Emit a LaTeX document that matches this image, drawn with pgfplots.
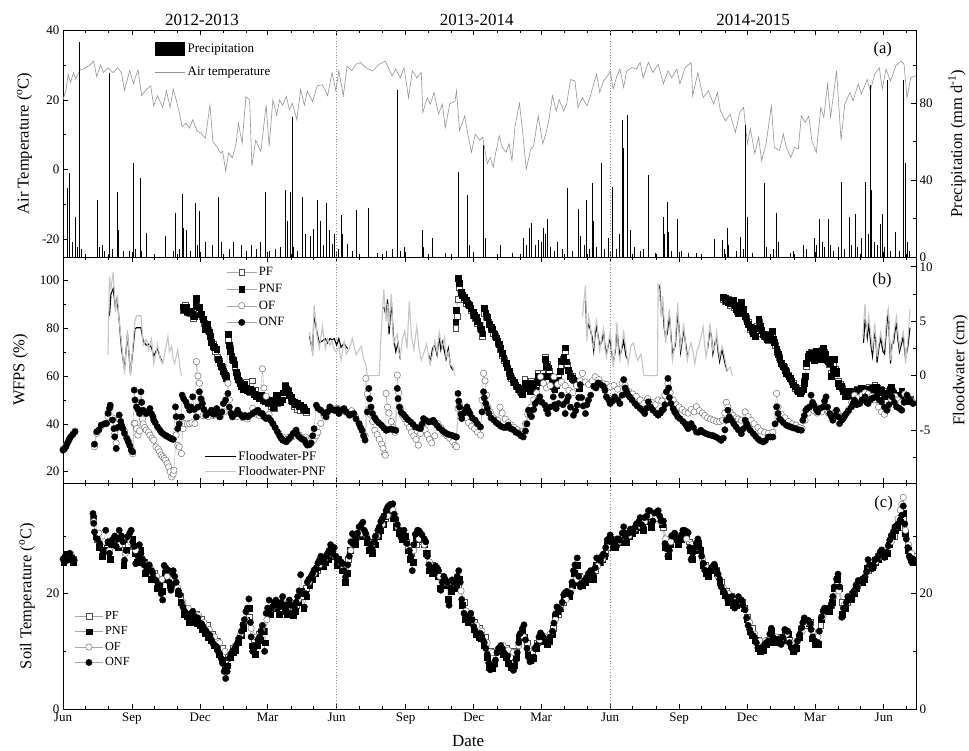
\documentclass[border=0pt]{standalone}
\usepackage{fontspec}
\setmainfont{Liberation Serif}
\usepackage{pgfplots}
\pgfplotsset{compat=1.18}
\pgfplotsset{
 base/.style={scale only axis, width=853pt, xmin=0, xmax=1138,
  xtick={0,92,183,273,365,457,548,638,730,822,913,1003,1095},
  minor xtick={30,61,122,153,214,245,304,334,395,426,487,518,579,610,669,699,760,791,852,883,944,975,1034,1064,1125},
  tick align=inside, major tick length=5pt, minor tick length=3pt,
  every tick/.append style={line width=0.6pt, black},
  axis line style={line width=0.8pt},
  ticklabel style={font=\fontsize{13}{14}\selectfont},
  /pgf/number format/assume math mode=true,
  unbounded coords=jump, anchor=south west},
 leftax/.style={base, xtick pos=both, ytick pos=left,
  every axis y label/.style={at={(axis description cs:#1,0.5)}, rotate=90, anchor=center, font=\fontsize{16.5}{18}\selectfont}},
 rightax/.style={base, axis x line=none, axis y line*=right, tick align=inside, ytick pos=right,
  every axis y label/.style={at={(axis description cs:#1,0.5)}, rotate=90, anchor=center, font=\fontsize{16.5}{18}\selectfont}},
 ser/.style={color=gray!70, line width=0.35pt},
 pf/.style={ser, mark=square*, mark size=2.9pt, mark options={solid, fill=white, draw=black!70, line width=0.5pt}},
 pnf/.style={ser, mark=square*, mark size=2.9pt, mark options={solid, fill=black, draw=black}},
 of/.style={ser, mark=*, mark size=3.2pt, mark options={solid, fill=white, draw=black!55, line width=0.5pt}},
 onf/.style={ser, mark=*, mark size=3.2pt, mark options={solid, fill=black, draw=black}},
 mleg/.style={legend image code/.code={\draw[mark repeat=2,mark phase=2,##1] plot coordinates {(0pt,0pt) (#1,0pt) (2*#1,0pt)};}},
 dotl/.style={gray!90, dotted, line width=0.8pt, forget plot},
}
\begin{document}
\begin{tikzpicture}
\useasboundingbox (-63pt,-41pt) rectangle (906pt,709pt);
%================ PANEL A =================
\begin{axis}[leftax=-0.045, at={(0pt,452pt)}, height=227pt,
  xticklabels={}, ymin=-25, ymax=40, ytick={-20,0,20,40}, minor ytick={-10,10,30},
  ylabel={Air Temperature (\textsuperscript{o}C)},
  after end axis/.code={
   \node[font=\fontsize{17}{18}\selectfont] at (axis description cs:0.163,1.046) {2012-2013};
   \node[font=\fontsize{17}{18}\selectfont] at (axis description cs:0.485,1.046) {2013-2014};
   \node[font=\fontsize{17}{18}\selectfont] at (axis description cs:0.809,1.046) {2014-2015};
   \node[font=\fontsize{16.5}{18}\selectfont] at (axis description cs:0.961,0.912) {(a)};
  }]
\addplot[dotl] coordinates {(365,-25) (365,40)};
\addplot[dotl] coordinates {(730,-25) (730,40)};
\addplot[gray!85, line width=0.6pt, forget plot] coordinates {
(0,20) (4,23) (7,27.3) (10,25) (14,27.8) (17,26) (23,28.6) (29,29) (36,30) (41,31.1) (45,26.6) (50,30) (54,27.8) (60,29.2) (67,27.8) (73,29.2) (78,27.8) (82,22.7) (89,28.4) (94,24.6) (100,28.6) (105,21.2) (110,22.7) (117,24) (121,18.3) (126,21.2) (133,17.8) (138,22.6) (143,17.8) (147,23.1) (151,20) (156,15.6) (159,12.3) (164,13.3) (169,11.9) (173,14.3) (179,11) (184,10.5) (190,9) (196,18.5) (200,8) (205,6.7) (210,4.8) (213,5.3) (217,-0.4) (221,4.8) (226,3.4) (231,7.6) (234,13.3) (239,7.6) (244,20.9) (249,20) (252,1) (257,8.4) (264,5.2) (271,18.5) (275,6.7) (280,20) (285,15.6) (289,20) (293,18.5) (298,21) (302,17.2) (306,19) (312,14.3) (317,23) (322,18.5) (326,22.5) (333,19.5) (339,24) (346,24.3) (353,21.2) (359,27.8) (364,22.6) (368,28.3) (374,21.2) (379,29.7) (385,28.3) (391,30.2) (397,30.7) (404,29.2) (413,28.3) (422,30.2) (430,31.1) (439,26.9) (444,28.8) (450,26.3) (455,29.2) (461,20.6) (466,28.3) (472,26.3) (478,27.8) (480,16.4) (486,20.6) (490,18.8) (495,22.1) (501,15.9) (506,18.8) (510,12.1) (516,18.8) (523,19.7) (525,22.6) (529,11.2) (536,15.4) (540,10.2) (545,5) (550,10.2) (556,8.4) (560,9.3) (566,1.7) (570,3.5) (574,0.7) (577,4.5) (582,9.7) (586,6.4) (591,5) (595,7.4) (599,2.6) (603,12.4) (609,19) (613,11.2) (618,0.2) (624,5.9) (628,6.9) (634,15.4) (640,7.4) (644,10.2) (648,14) (653,21.2) (658,16.8) (662,20.1) (668,16.8) (672,18.8) (677,25.8) (683,25.4) (687,17.8) (693,20.6) (699,18.3) (703,20.6) (708,24.6) (712,27.4) (716,22.1) (721,25.4) (725,26.3) (730,28.2) (734,23.1) (739,26.9) (743,28.8) (748,23.6) (752,28.3) (759,29.2) (765,28.8) (770,30.7) (774,26.3) (781,30.7) (787,27.8) (794,30.2) (801,24.6) (807,28.3) (812,26.3) (819,28.8) (823,24.6) (830,29.2) (838,30.7) (840,21.2) (847,27.8) (854,20.6) (861,22.6) (868,18.8) (873,22.1) (877,16.9) (884,14) (890,15.9) (897,10.7) (903,16.4) (908,17.8) (913,7.4) (917,11.7) (923,4.6) (928,9.3) (932,2.6) (938,7.4) (945,18.3) (949,6.4) (956,5.5) (961,10.2) (965,6.4) (971,3.5) (976,6.4) (981,6) (985,15.4) (990,13.5) (995,15.4) (999,8.4) (1005,5) (1011,17.8) (1015,15) (1020,24.6) (1024,15) (1032,28.3) (1038,8.4) (1043,18.8) (1050,22.1) (1054,19.7) (1061,24.6) (1065,21.7) (1073,25.8) (1077,22.6) (1083,27.4) (1089,29.2) (1093,23.1) (1098,28.8) (1104,25.4) (1111,29.7) (1118,31.1) (1122,30.2) (1126,20.6) (1131,26.3) (1138,27)};
\end{axis}
\begin{axis}[rightax=1.048, at={(0pt,452pt)}, height=227pt,
  ymin=0, ymax=118.2, ytick={0,40,80}, minor ytick={20,60,100},
  ylabel={Precipitation (mm d\textsuperscript{-1})},
  legend style={draw=none, fill=none, at={(axis description cs:0.104,0.957)}, anchor=north west, font=\fontsize{13}{14}\selectfont, row sep=8.5pt},
  legend cell align=left]
\addplot[ycomb, black, line width=0.9pt, no marks,
  legend image code/.code={\fill[black] (0pt,-6pt) rectangle (29pt,7pt);}] coordinates {
(6,35.7) (8,19.6) (9,43.5) (12,8) (16,21) (19,5) (22,112) (24,4) (46,29.6) (48,5) (52,6) (55,3) (62,96) (66,4) (72,34) (74,14) (80,3) (88,3) (94,48.7) (97,4) (103,40.9) (105,3) (111,12.3) (137,11) (148,3) (150,22.7) (156,4) (159,33) (161,15) (165,14) (170,3) (177,28.2) (180,6) (182,23.9) (190,8) (200,6) (208,31.3) (212,8) (222,4) (228,8) (238,6) (245,3) (252,6) (258,4) (264,8) (270,34) (275,3) (284,4) (290,5) (297,34.8) (299,19) (303,34) (306,72.9) (308,5) (313,3) (320,31.3) (323,12) (330,11) (334,14.5) (340,29.6) (343,19) (348,6) (351,28.2) (355,14) (359,7) (362,12) (368,4) (371,21.8) (373,12) (380,7) (386,3) (391,24.4) (408,25.3) (420,2) (432,3) (440,4) (446,86.8) (450,3) (455,5) (479,14) (481,5) (493,10) (510,2) (527,44.3) (539,32.2) (542,6) (561,58.2) (563,10) (583,6) (600,2) (614,10) (618,6) (622,15) (625,17.5) (630,6) (634,9) (638,8) (641,15) (644,12) (646,20) (650,5) (655,3) (660,8) (666,4) (673,35.7) (680,3) (688,24.8) (690,11) (695,6) (699,29.6) (703,4) (706,38.3) (708,19) (712,5) (718,48.7) (722,4) (728,10) (733,36.5) (738,4) (742,12) (746,71.2) (748,57) (753,73.8) (757,14) (763,5) (770,3) (775,4) (781,42.6) (790,2) (801,20.8) (803,12) (806,28.7) (808,13) (812,3) (820,20) (825,3) (835,2) (845,2) (869,9.5) (880,9) (883,4) (886,15) (888,6) (898,3) (904,10.5) (908,4) (911,68.6) (913,21) (920,2) (936,38.3) (938,5) (948,4) (952,23) (955,8) (970,2) (975,3) (988,6) (992,4) (1002,10) (1005,6) (1009,20) (1013,8) (1016,5) (1021,20) (1024,6) (1028,3) (1035,5) (1039,39) (1043,4) (1049,20.8) (1052,6) (1057,22.5) (1060,5) (1065,10) (1070,39) (1074,12) (1077,89.4) (1079,35) (1082,8) (1086,6) (1090,17) (1093,22.5) (1096,5) (1100,92) (1104,3) (1110,13) (1116,3) (1121,92) (1124,48.7) (1127,8) (1129,3)};
\addlegendentry{Precipitation}
\addlegendimage{gray!85, line width=0.6pt, legend image code/.code={\draw[gray!85, line width=0.6pt] (0pt,0pt) -- (30pt,0pt);}}
\addlegendentry{Air temperature}
\end{axis}
%================ PANEL B =================
\begin{axis}[leftax=-0.05, at={(0pt,226pt)}, height=226pt,
  xticklabels={}, ymin=15.28, ymax=109.74, ytick={20,40,60,80,100}, minor ytick={30,50,70,90},
  ylabel={WFPS (\%)}, mleg=15pt,
  legend style={draw=none, fill=none, at={(axis description cs:0.188,0.972)}, anchor=north west, font=\fontsize{12.7}{13}\selectfont, row sep=2.8pt},
  legend cell align=left]
\addplot[dotl] coordinates {(365,15.28) (365,109.74)};
\addplot[dotl] coordinates {(730,15.28) (730,109.74)};
% PF
\addplot[pf] coordinates {
(160,87.5) (163,89.5) (166,86.5) (170,86) (174,84) (178,90) (181,88) (185,85) (188,82) (191,80) (194,79) (197,75.5) (200,73.5) (203,70.5) (206,68) (209,66) (212,63.5) (215,61) (218,60) (220,75) (223,71.5) (226,67) (229,63.5) (232,60.5) (235,58) (238,56) (241,55) (244,57.5) (247,54.5) (250,53) (253,58) (256,54) (259,52) (262,51) (266,50.5) (270,49.5) (274,48.5) (278,47.5) (282,46.5) (286,48.5) (290,49.5) (294,52.5) (297,56) (300,54) (304,50) (308,47.5) (312,46) (316,45.5) (320,46) (324,45) (325,nan)
(524,80) (526,85) (527,92) (529,97) (532,94.5) (535,92) (538,90.5) (541,90) (544,87.5) (547,85.5) (550,84) (553,82) (556,80) (559,76.5) (562,86) (565,85) (568,82.5) (571,79.5) (574,78) (577,76.5) (580,73.5) (583,71) (586,68.5) (589,66.5) (592,64.5) (595,61) (598,59) (601,57.5) (604,55.5) (607,54.5) (610,53.5) (613,55) (616,58.5) (619,57) (622,56) (625,58) (628,57) (631,55.5) (634,61) (637,59) (640,61) (643,68) (646,65) (649,62) (652,58) (655,55) (658,57) (661,59.5) (664,64) (667,67) (670,70.5) (673,64.5) (676,61) (679,60) (682,58) (685,57) (688,56) (689,nan)
(881,92) (884,91) (887,92) (890,89.5) (893,91) (896,88.5) (899,87) (902,87.5) (905,90) (908,87) (911,84) (914,82.5) (917,79.5) (920,78.5) (923,77.5) (926,81) (929,82.5) (932,78) (935,76.5) (938,76) (941,75) (944,77.5) (947,76.5) (950,73) (953,70) (956,68) (959,65) (962,63.5) (965,62) (968,60.5) (971,58.5) (974,57) (977,55) (980,54) (983,53.5) (986,55) (989,58) (992,64) (995,68.5) (998,70) (1001,67.5) (1004,69) (1007,69) (1010,68) (1013,71) (1016,70) (1019,66.5) (1022,65) (1025,61) (1028,65) (1031,63) (1034,58) (1037,56.5) (1040,55) (1043,52.5) (1046,53) (1049,53) (1052,52) (1055,53) (1059,54.5) (1063,54) (1067,55) (1071,54) (1075,55.5) (1079,55.5) (1083,56) (1087,55) (1091,54.5) (1095,53.5) (1099,53) (1103,54.5) (1107,53.5) (1111,52) (1115,51) (1119,53.5) (1123,51) (1127,50) (1130,50.5)};
\addlegendentry{PF}
% PNF
\addplot[pnf] coordinates {
(160,89) (162,88) (164,88.6) (166,87) (168,86.5) (171,87.2) (173,86) (175,85) (177,90) (178,92.5) (180,89) (182,88.6) (184,86) (187,83.6) (189,81.5) (190,79.5) (192,80) (193,81.6) (195,78.5) (196,76.7) (198,74) (200,72.5) (202,72) (205,71.1) (207,66.9) (209,65.5) (211,64.1) (213,63) (214,62) (216,60.5) (218,59.2) (220,77.4) (222,73) (223,70.5) (225,68.3) (227,66.5) (229,64.8) (231,61.5) (232,59.9) (234,58.5) (236,57.1) (238,55.7) (240,54.3) (242,56.5) (244,55) (246,54) (248,53.6) (250,54.5) (253,53.5) (255,52.5) (258,51.5) (260,52) (262,50.5) (264,52) (267,50) (269,49.5) (271,50.5) (273,49) (276,50) (278,48.5) (280,47.1) (282,49) (284,52) (286,51.5) (288,50) (290,49) (292,50.1) (294,53) (296,55.7) (298,54.5) (300,53.5) (302,52) (304,51) (306,49.5) (308,49) (310,48) (313,48.5) (315,47.5) (317,47.7) (320,47.1) (322,46) (324,45.5) (325,nan)
(524,82.7) (525,87.5) (527,100.8) (528,99.5) (529,98.7) (531,95.2) (533,93.8) (535,93) (538,91.7) (540,90.5) (542,89.6) (544,88.5) (547,86.8) (549,85.5) (551,84.7) (553,83) (556,81.2) (558,79.5) (560,77.7) (562,88.2) (564,86.5) (566,84.5) (569,81.5) (571,80.5) (573,79.5) (576,77.5) (578,76) (580,74.5) (582,73.2) (584,71.5) (586,69.7) (588,67.5) (591,65.5) (593,63.5) (595,62) (597,60) (600,58.5) (602,57.5) (604,56.4) (606,55.5) (608,54.3) (611,53) (613,52.2) (615,55) (617,57.1) (619,56) (621,55) (623,53.5) (626,57) (628,55.5) (630,54) (632,57.5) (634,59.9) (636,58) (639,57.5) (641,60) (643,66.9) (645,64) (648,63.5) (650,60) (652,57.1) (654,55.5) (656,54.3) (658,56) (661,58.5) (663,62) (665,66.2) (668,68) (670,71.8) (672,66) (674,62.5) (677,59.9) (679,59) (681,58.5) (684,57) (686,56.4) (689,55) (690,nan)
(881,93.1) (883,92.5) (885,91.7) (887,91) (890,90.3) (892,91) (894,91.7) (896,89.5) (898,88) (901,86.1) (903,88.5) (905,91) (907,88) (910,85) (912,83) (914,81.6) (917,80.5) (919,79.5) (921,78) (923,76.7) (925,80) (928,83.6) (930,81) (932,79) (934,77.4) (936,76.5) (939,75.3) (941,76) (943,77) (946,78.8) (948,75.5) (949,74) (952,71.1) (954,69) (956,66.9) (958,65.5) (961,64.1) (963,62.5) (965,61.3) (968,60) (970,59.2) (972,58) (974,56.4) (977,55.5) (979,54.3) (981,53.5) (983,52.9) (985,53.5) (987,54.3) (989,57) (990,59.9) (992,65.5) (994,68.3) (996,69) (999,69.7) (1000,68) (1002,66.5) (1003,68) (1005,70.4) (1007,68.5) (1010,67) (1012,69.5) (1014,71.8) (1017,69) (1019,67) (1021,66) (1023,65.5) (1025,59.9) (1027,63) (1029,67) (1031,62) (1032,61) (1034,57.1) (1036,55.5) (1038,55.7) (1041,53.5) (1043,51.5) (1045,52.5) (1047,53.6) (1050,52.5) (1052,51.5) (1054,52.5) (1056,53.6) (1060,54) (1063,53.5) (1065,55) (1067,54.5) (1069,53) (1072,53.5) (1074,54) (1076,54.5) (1078,54.5) (1081,55) (1083,55.2) (1085,55.5) (1088,54) (1090,54) (1092,54) (1094,53) (1096,51.5) (1099,52.5) (1101,52.5) (1103,54) (1105,55.5) (1108,53) (1110,51.5) (1112,51.5) (1114,50.1) (1117,52) (1119,53.6) (1121,52.5) (1123,50.1) (1125,51) (1127,49.5) (1130,50)};
\addlegendentry{PNF}
% OF
\addplot[of] coordinates {
(0,29.5) (4,31) (8,33.5) (13,35.8) (16,37) (20,nan) (42,30.4) (45,36) (51,39) (58,40) (60,43) (63,47) (66,42.5) (69,36) (71,32) (75,42) (78,39) (82,37) (87,33) (91,30) (93,27.5) (95,40.2) (96,40.2) (98,38) (100,35.3) (102,37) (104,49.2) (106,42) (107,40) (109,38.5) (111,37.4) (114,36.5) (116,35.3) (119,34) (121,33.2) (124,30.4) (127,29.5) (129,28.3) (131,27) (133,26.2) (135,25.5) (137,24.8) (139,23.5) (141,22) (143,20) (145,17.8) (147,19) (148,20.6) (151,35.3) (153,31) (155,30.4) (158,27.6) (160,38) (162,40.1) (166,40) (169,40.1) (172,40.5) (176,40.1) (178,66) (180,60) (182,57) (185,50) (187,43.5) (190,43.5) (194,43) (200,43.5) (205,44) (210,43) (215,45) (220,57) (222,50) (226,43.5) (232,43) (240,42.5) (246,42) (253,46.5) (258,44) (262,43.5) (266,63) (268,55) (271,51.5) (275,44) (280,40) (284,38) (288,36) (293,34.5) (298,33.5) (302,34.5) (306,34.5) (310,37) (315,35.5) (320,34) (324,34.5) (328,33) (332,34) (335,33.5) (338,35) (340,36.5) (344,40.2) (348,43.5) (352,45) (356,46.5) (359,46.5) (363,45.5) (366,46.5)
(368,45) (372,46) (376,45) (380,44.5) (385,45.5) (390,43) (395,40) (400,36.5) (403,35) (404,59) (406,52.5) (408,46) (410,44) (413,41) (416,37.3) (419,35.5) (422,33.5) (425,31.5) (427,29.7) (429,27.5) (430,26.9) (431,52.7) (433,47) (435,44.5) (438,41) (440,38.5) (443,36.5) (446,60.4) (448,53) (450,46.5) (453,43.5) (456,42) (459,40.5) (462,38.5) (465,36.5) (468,35) (471,33.5) (474,31.1) (477,36) (480,39) (483,37.5) (486,35.5) (489,33.5) (492,32) (496,35) (500,40.1) (504,38.5) (508,36) (512,35) (516,34) (520,32.5) (523,31) (525,30.4) (527,46.5) (529,48) (531,46) (534,44) (538,42.5) (541,40.5) (545,39) (549,38) (553,36.5) (557,35.3) (559,50) (561,61.1) (563,58) (565,52) (567,47) (570,45) (573,43) (576,42) (580,41.5) (583,47) (586,44.5) (590,42) (594,40.5) (598,39.5) (602,38.5) (606,37.5) (610,36.5) (614,37) (617,40) (620,44) (624,47) (628,50) (632,53) (637,59.7) (641,57) (645,55) (650,56) (655,59.7) (660,56.5) (665,57.5) (670,56) (675,54) (680,53) (685,56) (690,58) (693,61.1) (697,57.5) (701,56.5) (706,58) (710,59.7) (715,58.5) (720,57) (725,56.5) (730,55.5) (735,56) (740,54.5) (746,57) (750,56) (755,53.5) (760,52.5) (765,51.5) (770,50) (775,48.5) (780,50.6) (785,49) (790,48) (794,50) (799,49.5)
(803,52) (807,57) (810,53) (814,50) (818,48) (822,47) (826,46) (830,45) (834,44.5) (838,46) (842,45) (845,47.2) (849,45.5) (853,44.5) (856,43.5) (860,42.5) (864,42) (868,41.5) (872,41) (876,41) (880,41.5) (883,44.5) (885,49) (887,47) (890,45) (894,43.5) (898,42.5) (901,42) (905,41.5) (910,45) (914,43) (918,41.5) (922,40) (927,38.5) (931,37) (936,36.5) (941,36) (947,36.5) (952,52.7) (954,47) (958,44) (963,42.5) (968,41) (973,40) (978,39.5) (982,38.5) (986,38) (990,41.5) (994,44.5) (998,47) (1002,45.5) (1006,44.5) (1012,45) (1016,47.5) (1021,44.5) (1026,43.5) (1030,45) (1034,44.5) (1038,43) (1043,43.5) (1048,46) (1052,49) (1056,52) (1061,51) (1066,52) (1070,53) (1074,52.5) (1079,51.5) (1083,50) (1088,47) (1092,45) (1096,44) (1100,46) (1105,50) (1110,51.5) (1114,50) (1118,49) (1123,52.5) (1127,51) (1131,50) (1134,49)};
\addlegendentry{OF}
% ONF
\addplot[onf] coordinates {
(0,29) (2,29.5) (4,30.5) (6,32) (8,33.2) (10,34.5) (13,35.5) (16,36.7) (20,nan)
(42,31.5) (45,36.7) (48,37.5) (51,39.5) (55,40) (58,40.2) (60,44.4) (62,46.5) (63,47.8) (66,41.6) (68,38) (69,34.6) (71,29.7) (73,38.5) (75,43.7) (77,41) (78,39.5) (80,38) (82,36) (85,34) (87,32.5) (89,31) (91,29) (93,28.3) (95,54.1) (96,50) (98,47.1) (100,46) (102,44.3) (104,53.4) (105,49) (107,45.7) (109,45) (111,44.3) (113,45) (116,46.4) (118,44.3) (120,43) (121,41.6) (123,40.5) (126,38.8) (129,37.5) (131,36.5) (133,36) (136,35.3) (138,35) (140,34.6) (143,34) (145,33.8) (147,33.5) (150,47.1) (151,43) (153,38) (155,40) (158,42.9) (159,52) (161,50.5) (164,49.2) (166,47.5) (169,45.7) (171,47) (173,51.3) (175,46) (178,42.9) (180,47) (182,53.4) (184,50.5) (186,48.5) (188,46) (191,43.6) (194,44.5) (198,45.7) (201,44) (205,46.4) (207,44.5) (209,42.9) (212,45) (214,48.5) (217,50) (220,52.7) (222,47) (224,44.5) (226,42.9) (229,44) (233,45.7) (236,44) (240,42.9) (243,43.5) (246,42.9) (249,43.5) (253,44.3) (256,45) (260,45.7) (263,44.5) (266,44.3) (268,43) (271,42.2) (274,42.5) (277,41.5) (280,40.1) (283,38.5) (286,36.7) (289,35) (291,34) (293,33.2) (296,32.8) (298,32.5) (301,33.5) (304,34.6) (307,36) (311,37.4) (313,35.5) (315,34.6) (318,33.8) (320,33.5) (322,33.2) (324,32) (326,31.1) (329,31.3) (331,32) (333,35) (335,38) (338,47.8) (340,46.5) (344,45.7) (348,44.5) (351,42.9) (353,45) (356,47.1) (359,46) (362,45.7) (366,46)
(368,44.3) (371,45.5) (375,46.4) (378,45) (382,43.6) (385,44) (388,44.3) (391,42) (395,40.1) (397,38.5) (399,37.3) (401,35) (403,33.2) (406,45) (408,54.8) (409,50.5) (411,47) (413,44.3) (416,42.5) (418,41.5) (421,40.5) (425,39.4) (428,38.3) (431,37.3) (434,37.6) (438,37.8) (441,37.5) (444,37.3) (446,54.8) (447,50.5) (449,47) (451,44.9) (454,44) (457,42.9) (460,41.8) (464,40.8) (467,39.8) (470,38.7) (474,38.3) (477,38) (479,40) (481,42.2) (484,41.5) (488,40.8) (491,41) (494,41.5) (496,40.5) (499,39.4) (502,38.3) (506,37.3) (509,36.5) (512,35.9) (515,35.5) (519,35.2) (522,34.8) (525,34.5) (527,52.7) (528,49.5) (529,47) (531,44) (532,42.2) (535,44.5) (537,46) (539,47.1) (541,45.5) (543,44.3) (546,42.5) (550,41.5) (553,40) (557,38.7) (559,45) (561,53.4) (562,50.8) (564,48.5) (566,46.5) (568,44.5) (571,42.5) (575,41.5) (578,40.5) (581,39.8) (584,39) (588,38.5) (591,38.5) (594,39.5) (597,38) (601,37.5) (604,36.5) (608,35.9) (611,35) (614,34.5) (617,37) (619,40) (621,45.7) (623,44) (625,43) (628,46) (630,48.5) (633,49.5) (636,51.3) (639,49) (643,47.8) (645,46) (647,44.3) (650,47) (654,51.3) (656,48) (658,46.4) (661,48.5) (665,52) (667,48) (670,44.3) (672,49.5) (674,51.3) (677,47) (681,43.6) (684,45.5) (686,47.8) (688,51) (690,56.4) (692,51) (694,47.5) (697,44.3) (699,48) (701,49.9) (704,52) (708,55.7) (711,55) (714,57.1) (717,56.5) (721,55.7) (723,54) (725,51.3) (728,50) (730,48.5) (733,49.5) (736,51.3) (740,50) (743,48.5) (746,52) (748,58.5) (750,55) (752,53.5) (754,52) (756,51.3) (759,50) (763,48.5) (766,47.5) (770,46.4) (773,45.5) (776,44.3) (779,46.5) (781,49.2) (784,47) (787,45.7) (791,44.5) (794,43.6) (797,44.5) (799,45.7)
(801,46) (803,48) (805,53.4) (807,59) (808,55) (809,51) (811,48.5) (814,46.4) (816,45) (818,44.3) (820,43) (823,42.2) (827,41) (830,40.1) (832,39) (834,38) (836,39.5) (838,40.1) (841,38.5) (845,36.6) (848,36.5) (851,37.3) (854,36.5) (858,35.9) (861,35.5) (865,35.2) (868,35) (871,34.5) (875,33.8) (878,33.1) (881,34) (883,37.5) (885,41.5) (887,45.7) (889,43) (892,41.5) (895,40) (898,38.7) (901,37.5) (905,35.9) (908,38) (910,41.5) (912,40) (914,38.7) (917,37.3) (921,35.9) (924,34.8) (927,33.8) (930,33) (934,32.4) (937,33) (941,34.5) (944,34.5) (947,34.5) (950,40) (952,47.1) (954,44.3) (956,42) (958,41.5) (961,40.5) (965,39.4) (968,39) (971,38.7) (974,38.3) (978,38) (981,37.5) (985,37.3) (987,41.5) (989,43.5) (991,45.7) (993,46.5) (996,47.1) (998,52) (1000,49) (1002,47.8) (1005,46) (1007,45) (1010,46.5) (1014,47.1) (1016,49.5) (1018,51.3) (1020,47) (1023,44.3) (1025,43) (1027,41.5) (1030,43.5) (1032,45.7) (1034,43) (1036,40.1) (1039,41.5) (1041,42.2) (1043,43.5) (1045,44.3) (1048,45.5) (1052,47.1) (1054,48.5) (1056,49.9) (1059,48) (1063,48.5) (1066,50) (1070,51.3) (1072,49) (1074,48.5) (1077,50) (1079,50.6) (1082,51) (1086,52) (1089,50) (1092,49.2) (1096,47) (1099,45.7) (1102,48) (1106,51.3) (1109,49) (1112,47.1) (1116,46.4) (1119,45.7) (1122,49) (1126,52) (1128,50.5) (1130,49.9) (1134,48.5)};
\addlegendentry{ONF}
\node[font=\fontsize{16.5}{18}\selectfont] at (rel axis cs:0.96,0.898) {(b)};
\end{axis}
\begin{axis}[rightax=1.052, at={(0pt,226pt)}, height=226pt,
  ymin=-9.86, ymax=10.9, ytick={-5,0,5,10}, minor ytick={-7.5,-2.5,2.5,7.5},
  ylabel={Floodwater (cm)},
  legend style={draw=none, fill=none, at={(axis description cs:0.162,0.16)}, anchor=north west, font=\fontsize{13}{14}\selectfont, row sep=1pt},
  legend cell align=left,
  legend image code/.code={\draw[#1] (0pt,0pt) -- (31pt,0pt);}]
\addplot[black, line width=1.1pt] coordinates {
(62,5.5) (64,7.5) (67,8.0) (70,6.2) (72,7.0) (74,5.8) (78,2.5) (82,0.6) (86,3.8) (90,0.2) (93,2.2) (96,4.3) (98,4.4) (104,4.4) (107,3.2) (111,2.8) (114,2.9) (118,2.6) (121,1.8) (126,2.5) (130,1.6) (133,1.2) (134,nan)
(329,3.6) (333,2.2) (335,5.7) (339,3.9) (342,3.0) (346,3.2) (350,3.4) (353,3.0) (356,3.4) (359,3.3) (362,3.4) (365,2.8) (368,3.4) (371,2.6) (375,3.0) (378,2.6) (380,2.5) (381,nan)
(428,6.3) (431,5.5) (433,7.0) (435,3.8) (438,6.9) (441,3.5) (444,2.2) (447,3.0) (450,1.5) (451,nan)
(488,1.9) (490,1.2) (493,2.5) (496,2.8) (499,1.9) (502,3.6) (504,2.4) (506,3.1) (509,2.2) (511,1.5) (514,2.5) (517,0.9) (520,0.5) (521,nan)
(697,6.9) (699,4.0) (701,4.7) (703,4.4) (706,3.5) (708,2.3) (710,3.8) (712,4.5) (714,3.6) (716,2.7) (719,3.2) (721,4.1) (723,2.8) (725,2.0) (728,2.9) (730,3.4) (732,2.1) (734,1.2) (737,2.3) (739,4.4) (741,2.8) (743,1.8) (746,2.6) (748,3.2) (751,1.8) (754,1.4) (755,nan)
(794,7.9) (796,8.2) (798,6.0) (800,6.5) (802,4.4) (804,3.5) (806,3.8) (809,5.5) (811,3.8) (813,2.0) (817,2.8) (820,5.8) (822,4.3) (824,2.2) (826,3.2) (828,4.2) (831,2.8) (833,1.8) (834,nan)
(860,2.5) (863,4.1) (865,3.7) (867,2.0) (870,3.1) (872,3.5) (874,2.2) (876,1.3) (879,2.4) (881,1.8) (884,0.9) (886,0.4) (887,nan)
(1068,3.0) (1070,5.2) (1072,4.2) (1073,3.5) (1075,4.8) (1078,2.7) (1080,1.8) (1083,4.3) (1085,2.6) (1086,1.2) (1089,2.8) (1091,3.4) (1094,2.2) (1096,2.0) (1099,4.6) (1101,6.0) (1103,2.5) (1104,1.1) (1106,2.9) (1108,3.0) (1110,4.1) (1112,4.8) (1114,3.2) (1116,2.2) (1119,3.0) (1121,3.6) (1123,2.2) (1124,1.6) (1127,2.6) (1130,4.4)};
\addlegendentry{Floodwater-PF}
\addplot[gray!45, line width=1.1pt] coordinates {
(60,1.9) (62,9.1) (64,8.0) (67,9.5) (70,5.9) (73,7.4) (74,5.7) (78,3) (82,0.2) (86,4.2) (90,0) (93,2.5) (96,5) (98,5.5) (104,5.5) (107,2.8) (111,3.3) (114,2.4) (118,3.4) (121,1.1) (124,2) (126,2.9) (130,1.5) (133,1.1) (137,2.5) (140,3.6) (142,2.2) (145,2.7) (147,1.5) (149,1.1) (153,2.4) (156,0.8) (158,0) (159,nan)
(329,4) (333,1.9) (335,6.5) (339,3.7) (342,2.5) (346,4.5) (350,2.5) (353,3.4) (356,2.8) (359,3.2) (362,2.3) (365,2.2) (368,2.7) (371,1.4) (375,3.2) (378,2) (382,2.5) (386,3.4) (391,1.9) (395,2.4) (398,2.7) (401,1.5) (404,1) (406,0) (422,0) (424,3.2) (428,7.9) (431,5) (433,6.6) (435,4.5) (438,7.5) (441,2.9) (446,3.8) (448,2.2) (450,1.7) (453,3.5) (456,4.1) (459,2.5) (462,6.8) (465,3.6) (468,2.4) (472,4.5) (475,2.5) (478,1.4) (482,2.2) (485,2.9) (488,1.7) (490,1.1) (493,2) (496,3.2) (499,2.1) (502,4) (504,3.2) (506,2.6) (509,3.5) (511,1.7) (514,2.2) (517,1) (520,0.8) (523,0) (524,nan)
(693,5.4) (697,8.3) (699,3.2) (701,5.5) (703,4.9) (706,2.9) (708,2.6) (710,4.4) (712,5.1) (714,3.4) (716,2.3) (719,3.6) (721,4.3) (723,2.5) (725,1.7) (728,3.2) (730,4) (732,2.4) (734,0.8) (737,2.6) (739,4.9) (741,2.2) (743,1.4) (746,3.1) (748,4) (751,2.5) (754,1.1) (758,2.8) (761,3) (764,2) (767,1.4) (771,2) (773,1) (775,0) (793,0) (794,8.5) (796,7.6) (798,5.4) (800,7.3) (802,5) (804,3) (806,4.4) (809,6.1) (811,3.5) (813,1.4) (817,3.2) (820,6.7) (822,4) (824,2.6) (826,3.5) (828,4.8) (831,2.5) (833,1.4) (836,2.6) (838,3) (841,2) (843,1.1) (846,2.4) (848,2.6) (851,3.5) (854,4.5) (856,2.8) (858,1.7) (861,3.2) (863,4.8) (865,3.4) (867,2.3) (870,2.8) (872,4) (874,2.6) (876,1.7) (879,2.7) (881,2.3) (884,1.2) (886,0.5) (890,0.8) (893,0) (894,nan)
(1067,3.6) (1070,6.6) (1072,3.8) (1073,4.3) (1075,5.5) (1078,3.5) (1080,2.3) (1083,4.8) (1085,3) (1086,1.7) (1089,3.2) (1091,4) (1094,2.8) (1096,2.6) (1099,5.4) (1101,6.1) (1103,3.1) (1104,1.4) (1106,2.5) (1108,3.6) (1110,4.6) (1112,5.4) (1114,3.8) (1116,2.6) (1119,3.5) (1121,4) (1123,2.7) (1124,1.1) (1127,3.2) (1130,6.1)};
\addlegendentry{Floodwater-PNF}
\end{axis}
%================ PANEL C =================
\begin{axis}[leftax=-0.042, at={(0pt,0pt)}, height=226pt,
  xticklabels={Jun,Sep,Dec,Mar,Jun,Sep,Dec,Mar,Jun,Sep,Dec,Mar,Jun},
  ymin=0, ymax=39.2, ytick={0,20}, minor ytick={10,30},
  ylabel={Soil Temperature (\textsuperscript{o}C)},
  xlabel={Date}, xlabel style={at={(axis description cs:0.475,-0.143)}, anchor=center, font=\fontsize{17}{18}\selectfont},
  mleg=14pt,
  legend style={draw=none, fill=none, at={(axis description cs:0.01,0.45)}, anchor=north west, font=\fontsize{12.3}{13}\selectfont, row sep=1.8pt},
  legend cell align=left]
\addplot[dotl] coordinates {(365,0) (365,39.2)};
\addplot[dotl] coordinates {(730,0) (730,39.2)};
% PF
\addplot[pf] coordinates {
(2,26) (8,26.5) (14,26) (20,nan) (40,33) (45,29.5) (52,28) (59,28.5) (66,28.5) (73,28.8) (80,28.5) (87,28.5) (94,28.2) (101,27) (108,25.5) (115,24.5) (122,23.5) (129,22.5) (136,22.5) (143,22) (150,21.5) (157,19.5) (164,17.5) (171,17) (178,16.5) (185,15.5) (192,14.5) (199,13) (206,11.8) (213,10.5) (220,9) (227,10.5) (234,12) (241,14.5) (248,16) (255,12) (262,13) (269,13.5) (276,16.5) (283,17.5) (290,18) (297,18) (304,18) (311,18) (318,19.5) (325,21) (332,22.5) (339,24) (346,25.5) (353,26.5) (360,27) (367,26) (374,25) (381,26) (388,28.5) (395,30) (402,30.5) (409,29) (416,29.5) (423,31) (430,33) (437,34) (444,32.5) (451,30.5) (458,29) (465,27) (472,28.5) (479,29) (486,27) (493,25) (500,24) (507,22.5) (514,21.5) (521,21.5) (528,21.5) (535,18.5) (542,16.5) (549,15) (556,14) (563,12.5) (570,10) (577,9.8) (584,10.8) (591,10.5) (598,10) (605,10) (612,12.5) (619,11.5) (626,10) (633,11.5) (640,12.5) (647,12.5) (654,14) (661,16.5) (668,18.5) (675,19.5) (682,22) (689,23) (696,22.5) (703,23) (710,24) (717,25.5) (724,27) (731,28.5) (738,28.5) (745,29.5) (752,29.5) (759,30.5) (766,31.5) (773,32) (780,33) (787,33) (794,33) (801,31.5) (808,28.5) (815,29.5) (822,29.5) (829,30) (836,29) (843,28) (850,27.5) (857,25) (864,24) (871,24) (878,22) (885,20.5) (892,19.5) (899,18.5) (906,18.5) (913,16) (920,14) (927,12) (934,11.5) (941,12) (948,12.5) (955,12.5) (962,12.5) (969,12) (976,11.2) (983,12.5) (990,14.5) (997,15) (1004,12.5) (1011,14.5) (1018,17) (1025,18) (1032,21) (1039,18.5) (1046,18.5) (1053,20) (1060,21.5) (1067,22.5) (1074,24) (1081,25) (1088,26.5) (1095,27) (1102,28.5) (1109,30) (1116,31.5) (1121,33) (1127,28.5) (1134,26.5)};
\addlegendentry{PF}
% PNF
\addplot[pnf] coordinates {
(1,25.5) (5,26.8) (10,26.5) (14,25.5) (20,nan) (41,33.2) (44,30) (48,28) (52,26.5) (55,27.5) (59,29) (63,26) (67,28.5) (70,29) (74,28) (77,29.5) (81,25) (85,27.5) (88,29.5) (92,29.5) (96,27) (99,25.5) (103,27.5) (107,25.5) (110,23.5) (114,24) (117,22.5) (121,22.5) (125,21) (128,22) (132,20.5) (136,23.5) (139,22.5) (143,21.5) (146,23) (150,21.5) (153,20) (157,18.5) (161,16.5) (165,16) (168,15) (172,16) (176,15) (179,14.8) (183,14.5) (186,13.8) (190,13.2) (194,12.5) (197,12) (201,11) (205,10.5) (208,9.5) (212,8.5) (216,6.8) (219,7.5) (223,9) (227,9.8) (230,10.2) (234,11.5) (238,12.8) (241,14) (245,15.5) (248,17.5) (252,11) (256,9.5) (259,11) (263,12) (267,13.5) (270,11.5) (274,17) (277,16.5) (281,17.5) (285,17.5) (288,16.5) (292,18) (296,17) (299,16.5) (303,17.5) (307,16.2) (310,17) (314,18.5) (318,20.5) (321,17.5) (325,19.5) (329,21.5) (332,22.5) (336,23.5) (339,24.5) (343,25) (347,24.8) (350,25.5) (354,26) (358,27.5) (361,26.5) (365,25) (369,25.5) (372,24) (376,22) (379,23.5) (383,27.5) (387,29) (390,28.5) (394,30) (398,31) (401,30) (405,29) (409,27.5) (412,27) (416,28.5) (420,30) (423,31) (427,32) (430,33.5) (434,34.5) (438,35) (441,33) (445,31.5) (448,30.5) (452,29.5) (456,30) (460,27.5) (463,26) (467,25.5) (471,29.5) (474,30) (478,29.5) (482,28.5) (485,27) (489,24) (492,23.5) (496,23.5) (500,23) (503,21) (507,21.5) (511,21.5) (514,19) (518,20.5) (522,21) (525,21.5) (529,22.5) (533,18) (537,15.5) (540,15) (544,15.5) (548,13.8) (551,13) (555,12.5) (558,12.3) (562,11) (566,9) (569,7.2) (573,7) (576,8) (580,10) (584,10.5) (587,9.5) (591,9) (594,8) (598,7.2) (602,7.5) (605,9) (609,12.5) (613,13.5) (616,12.5) (620,9.5) (624,8.5) (627,8.8) (631,10.5) (635,12) (638,12.5) (642,11.8) (646,11.2) (649,11.8) (653,13) (657,16) (660,17) (664,17.5) (668,19) (671,19.5) (675,19.5) (679,21.5) (682,23.5) (686,25) (689,22) (693,21.5) (697,22) (700,22.5) (704,23.5) (708,22.5) (711,25) (715,25.5) (719,26) (722,26.5) (726,28.5) (730,29.5) (733,28) (737,28) (741,29) (744,29) (748,30.5) (752,29) (755,30) (759,30.5) (763,31) (766,31.5) (770,32.5) (774,31) (777,32.5) (781,33.5) (785,31.5) (788,33) (792,33.5) (796,33) (799,32) (803,28) (807,26.5) (810,28.5) (814,29.5) (818,29.5) (821,28.5) (825,29.5) (829,30.5) (832,30) (836,27.5) (839,26) (843,27.5) (847,28.8) (850,27.5) (854,25) (858,23.5) (861,23) (865,24) (869,24.5) (872,23.5) (876,22) (880,20.5) (883,19.8) (887,18.5) (890,19) (894,18) (898,18) (901,19) (905,18.5) (909,17.5) (912,15.5) (916,13.5) (919,12.8) (923,12) (927,10.5) (930,10) (934,10.2) (938,11.2) (941,11.5) (945,13.5) (949,11.5) (952,11.8) (956,11.5) (960,12) (963,13.5) (967,13) (971,11) (974,10) (978,10.5) (982,12.5) (985,13.8) (989,15.5) (993,15.2) (996,14.8) (1000,12.2) (1004,11.2) (1007,11.2) (1011,15.5) (1015,17) (1018,17) (1022,17) (1026,18.5) (1029,21) (1033,22.5) (1036,21) (1040,16.5) (1044,17.5) (1047,19) (1051,19) (1055,20) (1058,21) (1062,22) (1066,22) (1069,22.5) (1073,24.5) (1077,24.5) (1080,24.5) (1084,25.5) (1088,26) (1091,27) (1095,26.5) (1099,27) (1102,28.5) (1106,30) (1110,31) (1113,31.5) (1117,32.5) (1121,34) (1124,30.5) (1128,27.5) (1131,26) (1134,25.5)};
\addlegendentry{PNF}
% OF
\addplot[of] coordinates {
(4,26.5) (11,26.8) (20,nan) (41,32.5) (48,30.5) (55,29) (62,27.5) (69,29.5) (76,28.5) (83,27) (90,29) (97,27.5) (104,26.5) (111,25) (118,24.2) (125,23) (132,22.5) (139,23) (146,22.5) (153,21) (160,18.5) (167,17.5) (174,16.8) (181,16.2) (188,15) (195,13.8) (202,12.5) (209,11.5) (216,10) (223,9.5) (230,11) (237,13) (244,15.5) (251,14) (258,12.5) (265,13.8) (272,15.5) (279,17.5) (286,18) (293,18.5) (300,17.5) (307,17.5) (314,19) (321,20) (328,22) (335,23.5) (342,25) (349,26) (356,27) (363,26.5) (370,25.5) (377,24.5) (384,27.5) (391,29.5) (398,30.5) (405,30) (412,28.5) (419,30) (426,32) (433,33.5) (440,34.5) (447,31.5) (454,30) (461,28) (468,27.5) (475,29.5) (482,28.5) (489,25.5) (496,24.5) (503,23) (510,22) (517,21.5) (524,22) (531,20.5) (538,17) (545,15.8) (552,14.5) (559,13.5) (566,11.5) (573,9.8) (580,10.3) (587,11) (594,10.2) (601,9.8) (608,11) (615,12.5) (622,10.5) (629,10.5) (636,12) (643,12.5) (650,13) (657,15.5) (664,17.5) (671,19) (678,20.5) (685,22.5) (692,22.8) (699,22.8) (706,23.5) (713,24.8) (720,26) (727,28) (734,28.5) (741,29) (748,29.8) (755,30) (762,31) (769,31.8) (776,32.5) (783,33.5) (790,33) (797,32.5) (804,29.5) (811,29) (818,29.8) (825,29.8) (832,29.5) (839,28.5) (846,28) (853,26) (860,24.5) (867,24.5) (874,23) (881,21) (888,20) (895,19) (902,18.8) (909,17.5) (916,15) (923,13) (930,11.8) (937,11.8) (944,12.5) (951,12.5) (958,12.2) (965,13) (972,11.5) (979,11.8) (986,13.5) (993,15) (1000,13.5) (1007,12.5) (1014,16) (1021,17.5) (1028,19.5) (1035,20.5) (1042,18) (1049,19.5) (1056,20.5) (1063,22) (1070,23) (1077,24.5) (1084,25.5) (1091,26.5) (1098,27.5) (1105,29) (1110,31.5) (1114,33) (1117,34.5) (1119,35.5) (1121,36.7) (1124,31) (1128,28.5) (1132,27) (1134,26)};
\addlegendentry{OF}
% ONF
\addplot[onf] coordinates {
(0,26) (3,26.5) (6,25.8) (9,27) (12,26.3) (15,25.8) (20,nan) (40,33.9) (41,32.2) (42,30.7) (46,29.5) (49,28.7) (53,27.5) (57,31) (60,29) (62,27) (64,28.5) (66,29.4) (69,30) (71,28.2) (73,29.5) (75,31) (78,30) (80,29) (82,25.8) (84,27.5) (86,29.9) (89,30.5) (91,31) (93,29) (95,28.2) (97,25.2) (100,26.5) (102,28.5) (104,27) (106,26) (108,25) (111,24) (113,24.5) (115,25) (118,24) (120,23.5) (122,22.5) (124,22.3) (127,21.5) (129,21.2) (131,20) (133,18.9) (135,24.9) (137,24.5) (140,24.1) (142,22) (144,20.6) (147,24) (149,23) (151,22) (154,20.5) (156,19.8) (158,18.5) (160,17.7) (162,17) (164,16.6) (167,16) (169,15.4) (171,16.5) (173,16.9) (176,16) (178,15.5) (180,15.8) (182,15) (185,14.8) (187,14.3) (189,13.8) (191,13.5) (194,13) (196,12.8) (198,12) (200,11.4) (203,11) (205,10.8) (207,10) (209,9.6) (211,8.8) (213,7.9) (215,6.5) (217,5.3) (219,6.5) (220,7.5) (222,8.8) (224,9.5) (226,10) (229,10.5) (231,11) (233,11.5) (235,12.3) (238,13.5) (240,14.6) (242,15.5) (244,16.9) (246,17.5) (248,19.1) (250,15) (251,12.5) (253,10) (255,10.5) (257,11) (260,12) (262,12.5) (264,13.5) (266,14.5) (269,10) (271,16.6) (273,17.5) (275,18.9) (278,17.5) (280,17.8) (282,18.5) (284,18.9) (287,18) (289,17.7) (291,18.5) (293,19.5) (296,18) (298,17.1) (300,18) (302,18.9) (304,18) (306,16.6) (309,17.5) (311,18.5) (313,19.5) (315,20.5) (317,23.3) (320,20) (322,17.7) (324,20) (326,22) (328,22.5) (331,23) (333,23.5) (335,24.1) (338,24.5) (340,25.3) (342,25.8) (344,26.5) (346,25.5) (348,25.9) (351,26.5) (353,27) (355,27.5) (357,28.5) (360,27) (362,28) (364,26.5) (366,25.8) (368,26) (371,25.5) (373,25.2) (375,24) (377,22.9) (380,25) (382,26.5) (384,29) (386,30.4) (389,30) (391,29.4) (393,30.5) (395,31.6) (398,32) (400,32.4) (402,31) (404,30.4) (406,29.5) (408,28.7) (411,28) (413,27.5) (415,29) (417,30) (420,31) (422,31.6) (424,32.5) (426,33) (428,33.5) (431,34.4) (433,35) (435,35.3) (437,35.5) (440,35.6) (442,33.8) (444,33) (446,32) (449,31) (451,29.8) (453,30.5) (455,31) (457,30) (459,28.7) (462,27.5) (464,26.5) (466,24) (468,28.5) (470,30.3) (473,31) (475,30.9) (477,30.5) (479,30.2) (482,29.5) (484,29) (486,26.5) (488,25) (490,24.5) (493,24) (495,24.5) (497,24.8) (499,24.5) (501,24) (504,20.6) (506,22) (508,23) (510,22.5) (513,22) (515,18) (517,21) (519,22.4) (521,22) (524,22) (526,23) (528,24) (530,22) (532,19) (535,16.6) (537,16) (539,15.5) (541,16) (544,16.6) (546,15.5) (548,14.3) (550,13.5) (553,12.8) (555,13) (557,13.1) (560,12) (562,11.5) (564,10.5) (566,9.5) (568,8) (570,6.8) (573,7.5) (575,7.6) (577,8.5) (579,9.8) (581,10.5) (584,11) (586,10.5) (588,9.8) (590,9.5) (593,9.2) (595,8) (597,7.5) (599,7) (601,6.7) (604,8.5) (606,9.8) (608,11.5) (610,13.1) (613,14) (615,14.6) (617,12) (619,10.5) (621,9) (623,8.2) (626,8.5) (628,9) (630,10.5) (632,11) (635,12.5) (637,13.2) (639,12.8) (641,12.4) (644,12) (646,11.7) (648,12) (650,12.5) (653,13.5) (655,14.9) (657,16.5) (659,17.7) (661,17.5) (663,17.3) (666,18.5) (668,19.8) (670,20.2) (672,20.4) (675,20) (677,20.1) (679,22) (681,24) (683,25) (686,26.2) (688,23) (690,21.2) (692,21.5) (695,22.2) (697,22.5) (699,22.8) (701,23.5) (704,24) (706,23.5) (708,23.1) (710,24.5) (712,26.2) (715,26) (717,25.8) (719,26.5) (721,26.9) (724,28) (726,29.3) (728,29.5) (730,30.2) (732,29) (734,28) (737,28.5) (739,29.5) (741,29.5) (743,29.3) (746,30.5) (748,31.6) (750,30) (752,29.3) (755,30.5) (757,31.2) (759,31) (761,30.6) (763,31.5) (765,32.1) (768,32.5) (770,33.2) (772,32) (774,31.6) (776,33.2) (779,33.5) (781,34.4) (783,34.4) (785,32) (787,32.6) (789,34) (792,34.1) (794,34.4) (796,33.5) (798,32.6) (801,32.6) (803,28.7) (805,27.8) (807,26.5) (809,27.5) (812,30) (814,30.2) (816,30.5) (818,29.7) (821,28.7) (823,29.5) (825,30.2) (827,31) (829,31) (832,30.8) (834,30.6) (836,28) (838,25.9) (840,27) (843,28) (845,28.8) (847,29.5) (849,28) (852,26.5) (854,25.3) (856,24.1) (858,23.8) (861,23.4) (863,24) (865,24.5) (867,24.8) (869,25.1) (872,24) (874,23.4) (876,22.5) (878,21.2) (881,20.5) (883,20) (885,19.5) (887,18.9) (889,19.2) (892,19.5) (894,18.5) (896,17.5) (898,18.5) (901,19.5) (903,19) (905,18.9) (907,18) (910,17.2) (912,15.8) (914,14.5) (916,13.8) (918,13.1) (921,12.7) (923,12.3) (925,11.5) (927,10.6) (929,10.3) (932,10) (934,10.5) (936,11.2) (938,11.5) (941,11.8) (943,13) (945,14) (947,12.5) (949,11.8) (951,12) (954,12.1) (956,11.8) (958,11.2) (960,12.5) (963,13.8) (965,13.5) (967,13.5) (969,11.5) (972,10.6) (974,10.2) (976,10) (978,10.8) (980,11.8) (983,13) (985,14.1) (987,15) (989,15.8) (991,15.5) (994,15.4) (996,15) (998,13.8) (1000,12.5) (1003,11.8) (1005,11.2) (1007,11.5) (1009,13.5) (1012,16) (1014,17) (1016,17.5) (1018,17.3) (1021,17.3) (1023,17.6) (1025,18) (1027,19.5) (1029,21.2) (1032,22.5) (1034,23.4) (1036,21.2) (1039,15.9) (1041,17.5) (1043,17.5) (1045,18.5) (1047,19.5) (1050,19.2) (1052,19.2) (1054,20.2) (1056,20.6) (1058,21.5) (1061,22.3) (1063,22.2) (1065,22.1) (1067,22.6) (1070,22.9) (1072,23.8) (1074,25.9) (1076,25) (1079,24.3) (1081,25) (1083,25.9) (1085,26) (1088,26.5) (1090,27.2) (1092,27.6) (1094,27) (1096,26.3) (1099,27.2) (1101,28.3) (1103,29.3) (1105,30.1) (1108,30.8) (1110,31.6) (1112,31.8) (1114,32.1) (1117,32.8) (1119,33.6) (1121,35.2) (1123,32.1) (1125,29.5) (1127,28) (1129,26.5) (1130,26.2) (1132,25.5) (1134,26)};
\addlegendentry{ONF}
\node[font=\fontsize{16.5}{18}\selectfont] at (rel axis cs:0.962,0.911) {(c)};
\end{axis}
\begin{axis}[rightax=1.05, at={(0pt,0pt)}, height=226pt,
  ymin=0, ymax=39.2, ytick={0,20}, minor ytick={10,30}]
\addplot[draw=none, forget plot] coordinates {(0,0)};
\end{axis}
\end{tikzpicture}
\end{document}
